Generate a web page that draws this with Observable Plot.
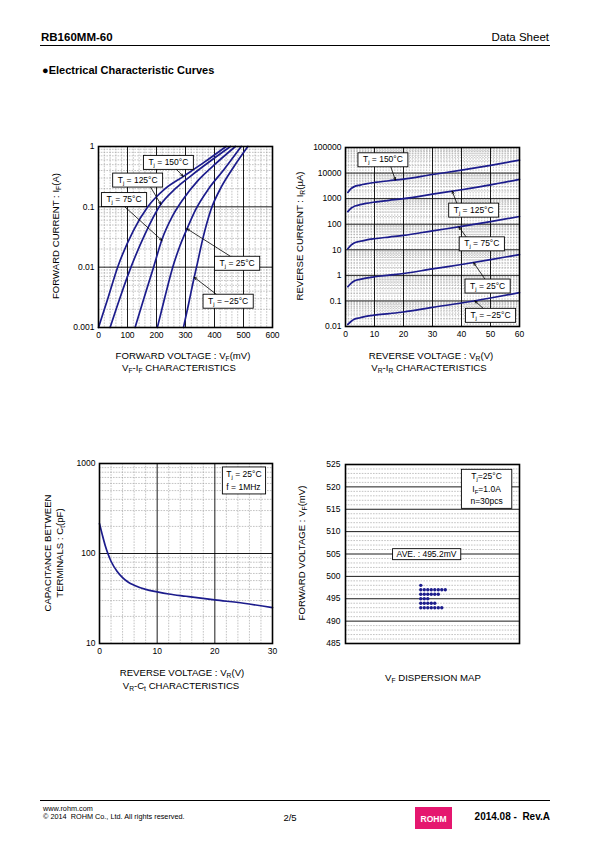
<!DOCTYPE html>
<html><head><meta charset="utf-8">
<script src="https://cdn.jsdelivr.net/npm/d3@7"></script>
<script src="https://cdn.jsdelivr.net/npm/@observablehq/plot@0.6"></script>
<style>
html,body{margin:0;padding:0;background:#fff;}
#page{position:relative;width:595px;height:842px;font-family:"Liberation Sans",Arial,Helvetica,sans-serif;color:#000;overflow:hidden;background:#fff;}
.abs{position:absolute;white-space:nowrap;line-height:1;}
sub{font-size:70%;vertical-align:-0.25em;line-height:0;}
svg.plot{position:absolute;}
</style></head><body><div id="page"></div>
<script>
// ---------------- DATA ----------------
// VF-IF characteristics (forward voltage mV, forward current A)
const vfIf150 = [[0,0.001],[30,0.0028],[66,0.01],[120,0.04],[170,0.1],[230,0.2],[293,0.32],[365,0.55],[440,1]];
const vfIf125 = [[40,0.001],[76,0.0033],[112,0.01],[160,0.035],[215,0.11],[265,0.2],[320,0.33],[385,0.57],[455,1]];
const vfIf75  = [[126,0.001],[158,0.0032],[190,0.01],[218,0.028],[255,0.07],[290,0.13],[345,0.28],[400,0.5],[472,1]];
const vfIf25  = [[203,0.001],[229,0.0032],[256,0.01],[280,0.022],[305,0.043],[335,0.09],[380,0.2],[430,0.4],[492,1]];
const vfIfM25 = [[293,0.001],[311,0.0025],[330,0.0068],[338,0.01],[360,0.03],[388,0.09],[425,0.22],[465,0.45],[515,1]];
const vfTicks = [0,100,200,300,400,500,600];
const ifTicks = [0.001,0.01,0.1,1];
const vfIfNotes = [
  {label:"T_j = 150°C", x:241, y:0.55,   x1:268, y1:0.42,   x2:292, y2:0.32},
  {label:"T_j = 125°C", x:135, y:0.28,   x1:178, y1:0.219,  x2:215, y2:0.11},
  {label:"T_j = 75°C",  x:88,  y:0.133,  x1:85,  y1:0.106,  x2:219, y2:0.0277},
  {label:"T_j = 25°C",  x:478, y:0.0117, x1:460, y1:0.0146, x2:305, y2:0.0433},
  {label:"T_j = −25°C", x:447, y:0.00275,x1:408, y1:0.0035, x2:330, y2:0.0068}
];

// VR-IR characteristics (reverse voltage V, reverse current uA)
const vrV   = [0.8, 2, 3, 5, 7, 10, 15, 20, 30, 40, 50, 60];
const ir150 = [1750, 2500, 2950, 3400, 3800, 4300, 5000, 5800, 8800, 13000, 20000, 32000];
const ir125 = [310, 430, 500, 580, 650, 735, 860, 1000, 1500, 2230, 3450, 5700];
const ir75  = [11, 15.5, 18.5, 21.5, 24, 27, 31.5, 36.5, 55, 82, 126, 200];
const ir25  = [0.36, 0.5, 0.6, 0.7, 0.78, 0.88, 1.02, 1.18, 1.8, 2.65, 4.1, 6.5];
const irM25 = [0.012, 0.016, 0.019, 0.022, 0.025, 0.028, 0.032, 0.037, 0.056, 0.083, 0.13, 0.21];
const vrTicks = [0,10,20,30,40,50,60];
const irTicks = [0.01,0.1,1,10,100,1000,10000,100000];
const vrIrNotes = [
  {label:"T_j = 150°C", x:12.9, y:33700,  x1:15.5, y1:19300, x2:17.2, y2:5340},
  {label:"T_j = 125°C", x:44.2, y:363,    x1:38.5, y1:617,   x2:36.8, y2:1960},
  {label:"T_j = 75°C",  x:47,   y:17.4,   x1:42,   y1:27.9,  x2:39.1, y2:78},
  {label:"T_j = 25°C",  x:49,   y:0.39,   x1:48.3, y1:0.66,  x2:44.2, y2:3.1},
  {label:"T_j = −25°C", x:50,   y:0.0279, x1:47.7, y1:0.049, x2:44.6, y2:0.1}
];

// VR-Ct characteristics (reverse voltage V, capacitance pF)
const ctV  = [0, 0.5, 1, 1.5, 2, 3, 4, 5, 6, 8, 10, 12, 15, 20, 25, 30];
const ctPF = [215, 160, 122, 98, 82, 64, 54, 48, 44.5, 40, 37.5, 35.5, 33.5, 30.5, 28, 25];
const ctVTicks = [0,10,20,30];
const ctTicks = [10,100,1000];
const ctNotes = [{label:"T_j = 25°C", x:22, y:760},{label:"f = 1MHz", x:22, y:545}];

// VF dispersion map (n = 30)
const vfLevels = [498, 497, 496, 495, 494, 493];
const vfCounts = [1, 8, 6, 3, 5, 7];
const dispTicks = [485,490,495,500,505,510,515,520,525];
const dispNotes = [{label:"T_j=25°C", y:522.3},{label:"I_F=1.0A", y:519.5},{label:"n=30pcs", y:516.7}];
const aveNote = [{label:"AVE. : 495.2mV", y:504.9}];

// ---------------- HELPERS ----------------
const FONT = '"Liberation Sans", Arial, Helvetica, sans-serif';
const NAVY = "#1c1c8c";
const page = document.getElementById("page");
const STYLE = {fontFamily: FONT, fontSize: "8.5px", color: "#000", background: "transparent", overflow: "visible"};
const minorStyle = {stroke: "#9a9a9a", strokeWidth: 0.6, strokeDasharray: "1.6,1.2"};
const majorStyle = {stroke: "#000", strokeWidth: 0.9};
const fmt = d => String(d);

// registry: first label text of a text mark -> box spec "mode:padX:padY"
const boxSpecs = new Map();
function boxed(data, spec) { boxSpecs.set(data[0].label, spec); return spec; }

function logMinors(lo, hi) {
  const out = [];
  for (let d = lo; d < hi; d *= 10) for (let k = 2; k <= 9; k++) out.push(+(d * k).toPrecision(3));
  return out;
}
function linMinors(lo, hi, step, major) {
  return d3.range(lo + step, hi, step).map(v => +v.toFixed(6)).filter(v => Math.abs(v / major - Math.round(v / major)) > 1e-6);
}
function series(pairs, t) { return pairs.map(([v, i]) => ({v, i, t})); }
function seriesXY(xs, ys, t) { return xs.map((v, k) => ({v, i: ys[k], t})); }

function place(svg, left, top) {
  svg.classList.add("plot");
  svg.style.left = left + "px";
  svg.style.top = top + "px";
  page.appendChild(svg);
}
function txt(html, o) {
  const d = document.createElement("div");
  d.className = "abs";
  d.innerHTML = html;
  d.style.fontSize = (o.size || 10) + "px";
  if (o.bold) d.style.fontWeight = "bold";
  let tr = "";
  if (o.cx !== undefined) { d.style.left = o.cx + "px"; tr = "translate(-50%,-50%)"; }
  else if (o.right !== undefined) { d.style.right = (595 - o.right) + "px"; tr = "translateY(-50%)"; }
  else { d.style.left = o.left + "px"; tr = "translateY(-50%)"; }
  d.style.top = o.cy + "px";
  if (o.rot) tr = "translate(-50%,-50%) rotate(-90deg)";
  d.style.transform = tr;
  if (o.color) d.style.color = o.color;
  page.appendChild(d);
  return d;
}
function hline(x, y, w, h) {
  const d = document.createElement("div");
  d.style.cssText = `position:absolute;left:${x}px;top:${y}px;width:${w}px;height:${h}px;background:#000;`;
  page.appendChild(d);
}
const SVGNS = "http://www.w3.org/2000/svg";
function boxify(svg) {
  svg.querySelectorAll("g").forEach(g => {
    const texts = Array.from(g.children).filter(c => c.tagName === "text");
    if (!texts.length) return;
    let spec = g.getAttribute("aria-description");
    if (!spec || !spec.startsWith("box")) spec = boxSpecs.get(texts[0].textContent);
    if (!spec) return;
    const [mode, pxs, pys] = spec.split(":");
    const px = +pxs, py = +pys;
    const mk = (bb, tr) => {
      const r = document.createElementNS(SVGNS, "rect");
      r.setAttribute("x", bb.x - px); r.setAttribute("y", bb.y - py);
      r.setAttribute("width", bb.width + 2 * px); r.setAttribute("height", bb.height + 2 * py);
      r.setAttribute("fill", "#fff"); r.setAttribute("stroke", "#000"); r.setAttribute("stroke-width", "0.9");
      if (tr) r.setAttribute("transform", tr);
      return r;
    };
    subscriptify(texts);
    if (mode === "boxeach") {
      texts.forEach(t => g.insertBefore(mk(t.getBBox(), t.getAttribute("transform")), t));
    } else {
      const bb = g.getBBox();
      g.insertBefore(mk(bb, null), g.firstChild);
    }
  });
}
function subscriptify(texts) {
  texts.forEach(t => {
    if (t.children.length) return;
    const s = t.textContent;
    if (!s.includes("_")) return;
    const parts = s.split(/_(.)/);
    t.textContent = "";
    let afterSub = false;
    parts.forEach((p, i) => {
      if (!p) return;
      const ts = document.createElementNS(SVGNS, "tspan");
      ts.textContent = p;
      if (i % 2 === 1) { ts.setAttribute("font-size", "70%"); ts.setAttribute("dy", "2"); afterSub = true; }
      else if (afterSub) { ts.setAttribute("dy", "-2"); afterSub = false; }
      t.appendChild(ts);
    });
  });
}
function finish(svg) { boxify(svg); }

// ---------------- TOP-LEFT: VF-IF ----------------
const vfIfRows = [].concat(series(vfIf150,"150"), series(vfIf125,"125"), series(vfIf75,"75"), series(vfIf25,"25"), series(vfIfM25,"-25"));
const p1 = Plot.plot({
  width: 240, height: 215, marginLeft: 48, marginRight: 18, marginTop: 10, marginBottom: 24,
  style: STYLE,
  x: {domain: [0, 600], ticks: vfTicks, tickSize: 0, tickPadding: 4, tickFormat: fmt, label: null},
  y: {type: "log", domain: [0.001, 1], ticks: ifTicks, tickSize: 0, tickPadding: 4, tickFormat: fmt, label: null},
  marks: [
    Plot.ruleX(linMinors(0, 600, 20, 100), minorStyle),
    Plot.ruleY(logMinors(0.001, 1), minorStyle),
    Plot.ruleX(vfTicks.slice(1, -1), majorStyle),
    Plot.ruleY(ifTicks.slice(1, -1), majorStyle),
    Plot.line(vfIfRows, {x: "v", y: "i", z: "t", stroke: NAVY, strokeWidth: 1.7, curve: "monotone-x"}),
    Plot.arrow(vfIfNotes, {x1: "x1", y1: "y1", x2: "x2", y2: "y2", stroke: "#000", strokeWidth: 0.8, headLength: 5, headAngle: 45}),
    Plot.text(vfIfNotes, {x: "x", y: "y", text: "label", fontSize: 8.5, ariaDescription: boxed(vfIfNotes, "boxeach:5:1.5")}),
    Plot.frame({stroke: "#000", strokeWidth: 1.6})
  ]
});
place(p1, 50, 136); finish(p1);

// ---------------- TOP-RIGHT: VR-IR ----------------
const vrIrRows = [].concat(seriesXY(vrV, ir150, "150"), seriesXY(vrV, ir125, "125"), seriesXY(vrV, ir75, "75"), seriesXY(vrV, ir25, "25"), seriesXY(vrV, irM25, "-25"));
const p2 = Plot.plot({
  width: 240, height: 214, marginLeft: 48, marginRight: 18, marginTop: 10, marginBottom: 25,
  style: STYLE,
  x: {domain: [0, 60], ticks: vrTicks, tickSize: 0, tickPadding: 4, tickFormat: fmt, label: null},
  y: {type: "log", domain: [0.01, 100000], ticks: irTicks, tickSize: 0, tickPadding: 4, tickFormat: fmt, label: null},
  marks: [
    Plot.ruleX(linMinors(0, 60, 1, 10), minorStyle),
    Plot.ruleY(logMinors(0.01, 100000), minorStyle),
    Plot.ruleX(vrTicks.slice(1, -1), majorStyle),
    Plot.ruleY(irTicks.slice(1, -1), majorStyle),
    Plot.line(vrIrRows, {x: "v", y: "i", z: "t", stroke: NAVY, strokeWidth: 1.7, curve: "monotone-x"}),
    Plot.arrow(vrIrNotes, {x1: "x1", y1: "y1", x2: "x2", y2: "y2", stroke: "#000", strokeWidth: 0.8, headLength: 5, headAngle: 45}),
    Plot.text(vrIrNotes, {x: "x", y: "y", text: "label", fontSize: 8.5, ariaDescription: boxed(vrIrNotes, "boxeach:5:1.5")}),
    Plot.frame({stroke: "#000", strokeWidth: 1.6})
  ]
});
place(p2, 297, 137); finish(p2);

// ---------------- BOTTOM-LEFT: VR-Ct ----------------
const ctRows = seriesXY(ctV, ctPF, "ct");
const p3 = Plot.plot({
  width: 240, height: 215, marginLeft: 48, marginRight: 19, marginTop: 10, marginBottom: 25,
  style: STYLE,
  x: {domain: [0, 30], ticks: ctVTicks, tickSize: 0, tickPadding: 4, tickFormat: fmt, label: null},
  y: {type: "log", domain: [10, 1000], ticks: ctTicks, tickSize: 0, tickPadding: 4, tickFormat: fmt, label: null},
  marks: [
    Plot.ruleX(linMinors(0, 30, 2, 10), minorStyle),
    Plot.ruleY(logMinors(10, 1000), minorStyle),
    Plot.ruleX(ctVTicks.slice(1, -1), majorStyle),
    Plot.ruleY(ctTicks.slice(1, -1), majorStyle),
    Plot.line(ctRows, {x: "v", y: "i", stroke: NAVY, strokeWidth: 1.7, curve: "monotone-x"}),
    Plot.text(ctNotes, {x: "x", y: "y", text: "label", textAnchor: "start", fontSize: 8.5, ariaDescription: boxed(ctNotes, "boxgroup:4:2")}),
    Plot.frame({stroke: "#000", strokeWidth: 1.6})
  ]
});
place(p3, 51, 453); finish(p3);

// ---------------- BOTTOM-RIGHT: VF dispersion ----------------
const dispDots = [];
vfLevels.forEach((lv, r) => { for (let k = 0; k < vfCounts[r]; k++) dispDots.push({k, vf: lv}); });
const p4 = Plot.plot({
  width: 240, height: 214, marginLeft: 48, marginRight: 18, marginTop: 10, marginBottom: 25,
  style: STYLE,
  x: {domain: [-21.5, 28.2], axis: null},
  y: {domain: [485, 525], ticks: dispTicks, tickSize: 0, tickPadding: 5, tickFormat: fmt, label: null},
  marks: [
    Plot.ruleY(linMinors(485, 525, 1, 5), minorStyle),
    Plot.ruleY(dispTicks.slice(1, -1), majorStyle),
    Plot.dot(dispDots, {x: "k", y: "vf", r: 1.7, fill: NAVY, stroke: "none"}),
    Plot.text(dispNotes, {x: () => 18.8, y: "y", text: "label", fontSize: 8.5, ariaDescription: boxed(dispNotes, "boxgroup:9:2")}),
    Plot.text(aveNote, {x: () => 1.64, y: "y", text: "label", fontSize: 8.5, ariaDescription: boxed(aveNote, "boxgroup:4:0.5")}),
    Plot.frame({stroke: "#000", strokeWidth: 1.6})
  ]
});
place(p4, 297, 454); finish(p4);

// ---------------- AXIS TITLES ----------------
const TS = 9.6;
txt("FORWARD CURRENT : I<sub>F</sub>(A)", {cx: 56, cy: 236, size: TS, rot: true});
txt("FORWARD VOLTAGE : V<sub>F</sub>(mV)", {cx: 183, cy: 356, size: TS});
txt("V<sub>F</sub>-I<sub>F</sub> CHARACTERISTICS", {cx: 179, cy: 367.5, size: TS});

txt("REVERSE CURRENT : I<sub>R</sub>(µA)", {cx: 300, cy: 236, size: TS, rot: true});
txt("REVERSE VOLTAGE : V<sub>R</sub>(V)", {cx: 431, cy: 356, size: TS});
txt("V<sub>R</sub>-I<sub>R</sub> CHARACTERISTICS", {cx: 429, cy: 367.5, size: TS});

txt("CAPACITANCE BETWEEN", {cx: 48, cy: 553, size: TS, rot: true});
txt("TERMINALS : C<sub>t</sub>(pF)", {cx: 59.5, cy: 553, size: TS, rot: true});
txt("REVERSE VOLTAGE : V<sub>R</sub>(V)", {cx: 182, cy: 673, size: TS});
txt("V<sub>R</sub>-C<sub>t</sub> CHARACTERISTICS", {cx: 181, cy: 685.5, size: TS});

txt("FORWARD VOLTAGE : V<sub>F</sub>(mV)", {cx: 302, cy: 553, size: TS, rot: true});
txt("V<sub>F</sub> DISPERSION MAP", {cx: 433, cy: 678, size: TS});

// ---------------- HEADER / FOOTER ----------------
txt("RB160MM-60", {left: 41, cy: 37.5, size: 11.5, bold: true});
txt("Data Sheet", {right: 549, cy: 37.5, size: 11.5});
hline(40, 45, 510, 1.2);
txt("●Electrical Characteristic Curves", {left: 42, cy: 70, size: 11, bold: true});

hline(40, 799.5, 510, 1);
txt("www.rohm.com", {left: 43, cy: 808.5, size: 7.3});
txt("© 2014&nbsp; ROHM Co., Ltd. All rights reserved.", {left: 43, cy: 816.5, size: 7.3});
txt("2/5", {cx: 290, cy: 817.5, size: 9.5});
const logo = document.createElement("div");
logo.style.cssText = "position:absolute;left:415px;top:807px;width:37px;height:22px;background:#e5176f;";
page.appendChild(logo);
txt("ROHM", {cx: 433.5, cy: 818.5, size: 8.5, bold: true, color: "#fff"});
txt("2014.08 -&nbsp; Rev.A", {right: 550, cy: 817, size: 10, bold: true});
</script></body></html>
